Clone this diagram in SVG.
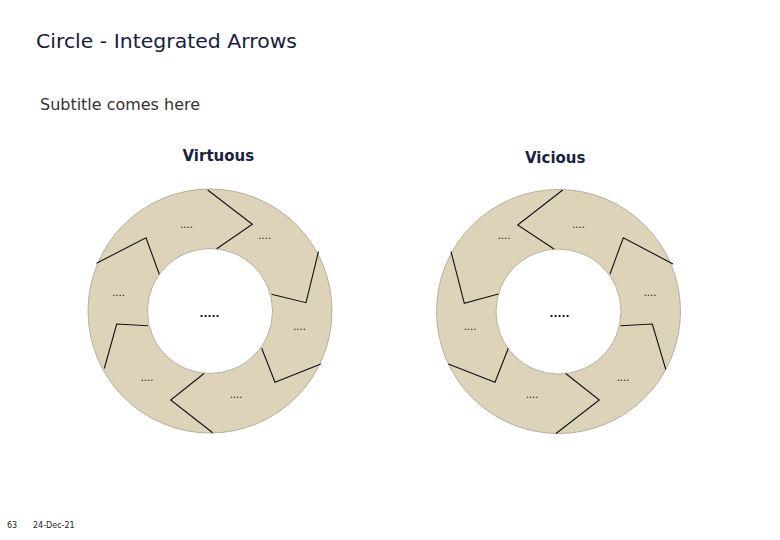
<svg xmlns="http://www.w3.org/2000/svg" width="780" height="540" viewBox="0 0 780 540">
<style>
.ring{fill:#DCD3B9;stroke:#A8A290;stroke-width:0.8;fill-rule:evenodd}
.div{fill:none;stroke:#111;stroke-width:1.1;stroke-linejoin:miter}
.dots{font-family:"DejaVu Sans",Verdana,sans-serif;font-size:10px;fill:#111;text-anchor:middle}
.cdots{font-family:"DejaVu Sans",Verdana,sans-serif;font-size:10.5px;font-weight:bold;fill:#111;text-anchor:middle}
.head{font-family:"DejaVu Sans",Verdana,sans-serif;font-size:15px;font-weight:bold;fill:#1A2242}
</style>
<rect width="780" height="540" fill="#fff"/>
<g id="title">
<text x="36" y="48" font-family="DejaVu Sans, Verdana, sans-serif" font-size="19.5" fill="#14213D" textLength="261" lengthAdjust="spacingAndGlyphs">Circle - Integrated Arrows</text>
</g>
<g id="subtitle">
<text x="40" y="110" font-family="DejaVu Sans, Verdana, sans-serif" font-size="15.5" fill="#333" textLength="160" lengthAdjust="spacingAndGlyphs">Subtitle comes here</text>
</g>
<g id="virtuous">
<text class="head" x="182.5" y="161">Virtuous</text>
<path class="ring" d="M332,311a122,122 0 1,0 -244,0a122,122 0 1,0 244,0ZM272.5,311a62.5,62.5 0 1,0 -125,0a62.5,62.5 0 1,0 125,0Z"/>
<text class="dots" x="186.5" y="228">....</text>
<text class="dots" x="264.5" y="239">....</text>
<text class="dots" x="118.5" y="296">....</text>
<text class="dots" x="299.5" y="330">....</text>
<text class="dots" x="147" y="381">....</text>
<text class="dots" x="236" y="398">....</text>
<text class="cdots" x="209.5" y="317">.....</text>
</g>
<g id="vicious">
<text class="head" x="525" y="163">Vicious</text>
<path class="ring" d="M680.5,311.5a122,122 0 1,0 -244,0a122,122 0 1,0 244,0ZM621,311.5a62.5,62.5 0 1,0 -125,0a62.5,62.5 0 1,0 125,0Z"/>
<text class="dots" x="578.5" y="228">....</text>
<text class="dots" x="504" y="239">....</text>
<text class="dots" x="650" y="296">....</text>
<text class="dots" x="470" y="330">....</text>
<text class="dots" x="623" y="381">....</text>
<text class="dots" x="532" y="398">....</text>
<text class="cdots" x="559.5" y="317">.....</text>
</g>
<g id="connectors">
<polyline class="div" points="207.7,190 252.3,224.3 216.7,248.8"/>
<polyline class="div" points="318.5,251.5 306,302.7 271.5,294.3"/>
<polyline class="div" points="320.8,364 275,382.3 261.7,348.3"/>
<polyline class="div" points="212.7,432.8 170.7,400 204,373.5"/>
<polyline class="div" points="104.3,368.5 116.7,324 148,325.7"/>
<polyline class="div" points="96.5,263.3 146,237.7 159.3,274.3"/>
<polyline class="div" points="562.7,190 517.7,225 554,249"/>
<polyline class="div" points="451,251.5 464.3,303.3 498.3,294"/>
<polyline class="div" points="448.3,364 495,382.3 508.3,348.3"/>
<polyline class="div" points="556,433.5 599.3,400 565.7,373.5"/>
<polyline class="div" points="665.8,369.5 652.3,324 620.5,325.7"/>
<polyline class="div" points="673,264 623.3,237.7 610,274"/>
</g>
<g id="footer">
<text x="7" y="528" font-family="DejaVu Sans, Verdana, sans-serif" font-size="8" fill="#222">63</text>
<text x="33" y="528" font-family="DejaVu Sans, Verdana, sans-serif" font-size="8" fill="#222">24-Dec-21</text>
</g>
</svg>
